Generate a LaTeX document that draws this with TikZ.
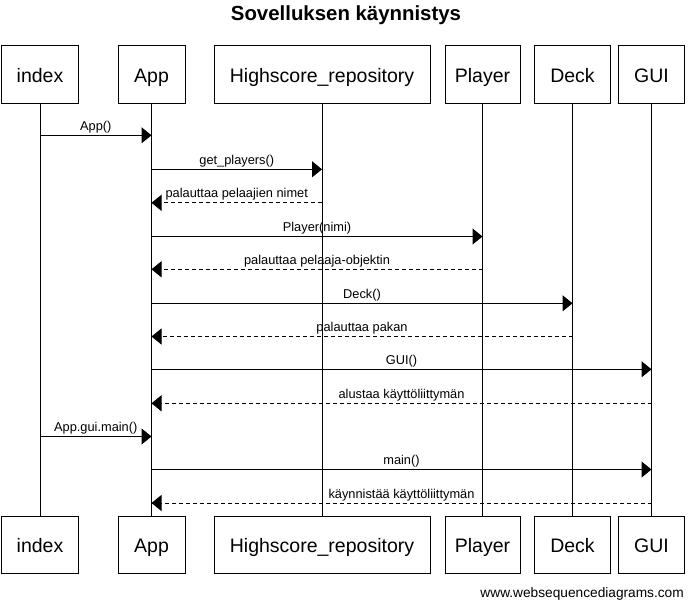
\documentclass[tikz,border=0pt]{standalone}
\usepackage{fontspec}
\setmainfont{Liberation Sans}
\usetikzlibrary{arrows.meta}
\begin{document}
\begin{tikzpicture}[x=1pt,y=-1pt,
  actor/.style={draw,line width=1pt,minimum height=57pt,inner sep=0pt,
    text height=16pt,text depth=0pt,font=\fontsize{19.5}{22}\selectfont},
  life/.style={line width=1pt},
  msg/.style={line width=1pt,-{Triangle[length=10pt,width=16pt]}},
  ret/.style={msg,dash pattern=on 4pt off 3pt},
  lbl/.style={font=\fontsize{12.8}{15}\selectfont,inner sep=0pt,anchor=base}]
\useasboundingbox (0,0) rectangle (693,610);

\node[font=\bfseries\fontsize{20.4}{24}\selectfont,inner sep=0pt,anchor=base] (title) at (346,21) {Sovelluksen käynnistys};

% top actors
\node[actor,minimum width=77pt] (iT) at (40,74.5) {index};
\node[actor,minimum width=67pt] (aT) at (151.5,74.5) {App};
\node[actor,minimum width=216pt] (hT) at (322,74.5) {Highscore\_repository};
\node[actor,minimum width=75pt] (pT) at (482.5,74.5) {Player};
\node[actor,minimum width=76pt] (dT) at (572.5,74.5) {Deck};
\node[actor,minimum width=66pt] (gT) at (651.5,74.5) {GUI};
% bottom actors
\node[actor,minimum width=77pt] (iB) at (40,544.5) {index};
\node[actor,minimum width=67pt] (aB) at (151.5,544.5) {App};
\node[actor,minimum width=216pt] (hB) at (322,544.5) {Highscore\_repository};
\node[actor,minimum width=75pt] (pB) at (482.5,544.5) {Player};
\node[actor,minimum width=76pt] (dB) at (572.5,544.5) {Deck};
\node[actor,minimum width=66pt] (gB) at (651.5,544.5) {GUI};

% lifelines
\draw[life] (iT.south) -- (iB.north);
\draw[life] (aT.south) -- (aB.north);
\draw[life] (hT.south) -- (hB.north);
\draw[life] (pT.south) -- (pB.north);
\draw[life] (dT.south) -- (dB.north);
\draw[life] (gT.south) -- (gB.north);

% message end points
\coordinate (m1a) at (40,135.3);   \coordinate (m1b) at (151.5,135.3);
\coordinate (m2a) at (151.5,169.3); \coordinate (m2b) at (322,169.3);
\coordinate (m3a) at (322,202.8);  \coordinate (m3b) at (151.5,202.8);
\coordinate (m4a) at (151.5,236.5); \coordinate (m4b) at (482.5,236.5);
\coordinate (m5a) at (482.5,269.3); \coordinate (m5b) at (151.5,269.3);
\coordinate (m6a) at (151.5,303.3); \coordinate (m6b) at (572.5,303.3);
\coordinate (m7a) at (572.5,336.5); \coordinate (m7b) at (151.5,336.5);
\coordinate (m8a) at (151.5,369.3); \coordinate (m8b) at (651.5,369.3);
\coordinate (m9a) at (651.5,403.3); \coordinate (m9b) at (151.5,403.3);
\coordinate (m10a) at (40,436.5);  \coordinate (m10b) at (151.5,436.5);
\coordinate (m11a) at (151.5,469.5); \coordinate (m11b) at (651.5,469.5);
\coordinate (m12a) at (651.5,503); \coordinate (m12b) at (151.5,503);

% messages
\draw[msg] (m1a) -- (m1b);
\draw[msg] (m2a) -- (m2b);
\draw[ret] (m3a) -- (m3b);
\draw[msg] (m4a) -- (m4b);
\draw[ret] (m5a) -- (m5b);
\draw[msg] (m6a) -- (m6b);
\draw[ret] (m7a) -- (m7b);
\draw[msg] (m8a) -- (m8b);
\draw[ret] (m9a) -- (m9b);
\draw[msg] (m10a) -- (m10b);
\draw[msg] (m11a) -- (m11b);
\draw[ret] (m12a) -- (m12b);

% labels
\node[lbl] (l1) at (95.75,130.3) {App()};
\node[lbl] (l2) at (236.75,164.3) {get\_players()};
\node[lbl] (l3) at (236.75,197.8) {palauttaa pelaajien nimet};
\node[lbl] (l4) at (317,231.5) {Player(nimi)};
\node[lbl] (l5) at (317,264.3) {palauttaa pelaaja-objektin};
\node[lbl] (l6) at (362,298.3) {Deck()};
\node[lbl] (l7) at (362,331.5) {palauttaa pakan};
\node[lbl] (l8) at (401.5,364.3) {GUI()};
\node[lbl] (l9) at (401.5,398.3) {alustaa käyttöliittymän};
\node[lbl] (l10) at (95.75,431.5) {App.gui.main()};
\node[lbl] (l11) at (401.5,464.5) {main()};
\node[lbl] (l12) at (401.5,498) {käynnistää käyttöliittymän};

\node[font=\fontsize{13.7}{16}\selectfont,inner sep=0pt,anchor=base east] (foot) at (684,597) {www.websequencediagrams.com};
\end{tikzpicture}
\end{document}
